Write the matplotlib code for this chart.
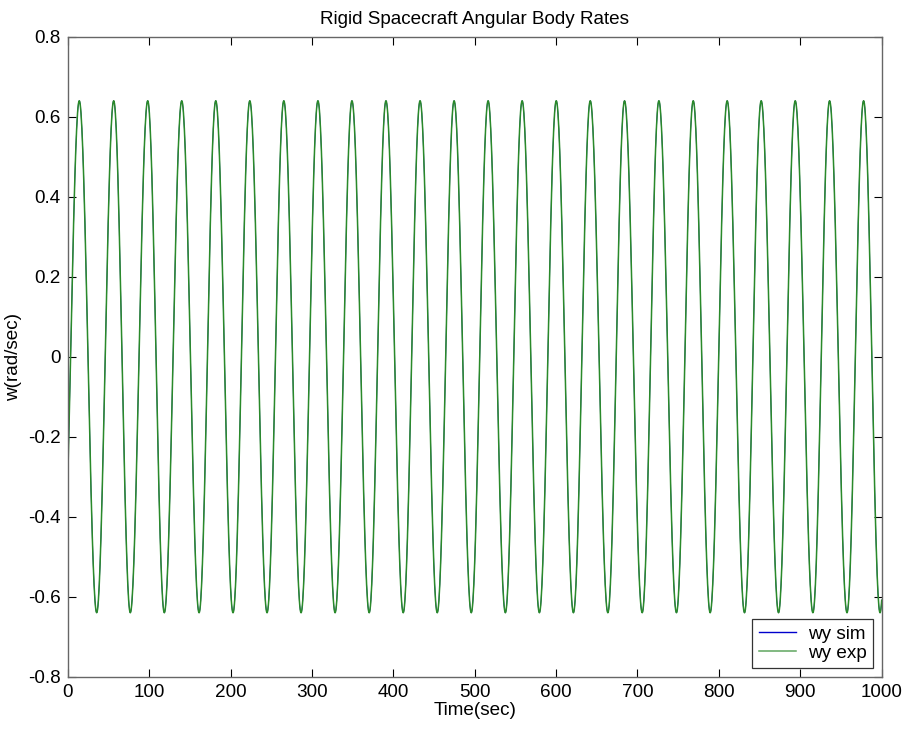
import numpy as np
import matplotlib.pyplot as plt

plt.rcParams['font.family'] = ['Liberation Sans', 'DejaVu Sans']
plt.rcParams['font.size'] = 13.6

# picos e vales de wy (tempo em s, taxa em rad/s)
peak_t = [14.2, 56.5, 98.3, 140.1, 181.9, 223.7, 265.5, 307.4, 349.2, 391.0, 432.9, 474.7,
          516.5, 558.3, 600.2, 642.0, 684.1, 726.3, 768.5, 810.2, 852.0, 893.8, 936.0, 977.8]
peak_w = [0.64, 0.64, 0.64, 0.64, 0.64, 0.64, 0.64, 0.64, 0.64, 0.64, 0.64, 0.64,
          0.64, 0.64, 0.64, 0.64, 0.64, 0.64, 0.64, 0.64, 0.64, 0.64, 0.64, 0.64]
trough_t = [35.6, 76.9, 118.7, 161.4, 203.1, 244.9, 286.7, 328.5, 370.4, 412.2, 454.0, 495.8,
            537.7, 579.5, 621.3, 663.6, 705.8, 747.9, 789.3, 831.5, 873.3, 915.5, 957.4, 998.0]
trough_w = [-0.64, -0.64, -0.64, -0.64, -0.64, -0.64, -0.64, -0.64, -0.64, -0.64, -0.64, -0.64,
            -0.64, -0.64, -0.64, -0.64, -0.64, -0.64, -0.64, -0.64, -0.64, -0.64, -0.64, -0.64]

ext_t = np.ravel(np.column_stack([peak_t, trough_t]))
ext_w = np.ravel(np.column_stack([peak_w, trough_w]))
# meio ciclo antes do primeiro pico e depois do ultimo vale (cortado pelo xlim)
ext_t = np.concatenate([[2*ext_t[0] - ext_t[1]], ext_t, [2*ext_t[-1] - ext_t[-2]]])
ext_w = np.concatenate([[ext_w[1]], ext_w, [ext_w[-2]]])

t = []
w = []
for i in range(len(ext_t) - 1):
    s = np.linspace(0, 1, 40, endpoint=False)
    t.append(ext_t[i] + s*(ext_t[i+1] - ext_t[i]))
    w.append((ext_w[i] + ext_w[i+1])/2 + (ext_w[i] - ext_w[i+1])/2*np.cos(np.pi*s))
t = np.concatenate(t)
w = np.concatenate(w)

fig = plt.figure(figsize=(9.04, 7.29), dpi=100)
ax = fig.add_axes([0.0749, 0.0717, 0.9004, 0.8779])

# sim e exp coincidem: o verde cobre o azul
ax.plot(t, w, color='#0000cc', lw=0.6, label='wy sim')
ax.plot(t, w, color='#2a8a2a', lw=1.1, label='wy exp')

ax.set_xlim(0, 1000)
ax.set_ylim(-0.8, 0.8)
ax.set_xticks(np.arange(0, 1001, 100))
ax.set_yticks(np.arange(-0.8, 0.81, 0.2))
ax.set_yticklabels(['-0.8', '-0.6', '-0.4', '-0.2', '0', '0.2', '0.4', '0.6', '0.8'])
ax.tick_params(direction='in', top=True, right=True, length=5.5, width=0.8, pad=5)
for sp in ax.spines.values():
    sp.set_color('#666666')
    sp.set_linewidth(1.0)

ax.set_title('Rigid Spacecraft Angular Body Rates', fontsize=13.6, pad=9)
ax.set_xlabel('Time(sec)', labelpad=1)
ax.set_ylabel('w(rad/sec)', labelpad=4)

leg = ax.legend(loc='lower right', fancybox=False, framealpha=1, edgecolor='#333333',
                borderaxespad=0.45, handlelength=2.0, labelspacing=0.1, borderpad=0.35,
                handletextpad=0.6)
leg.legend_handles[0].set_linewidth(1.0)
leg.legend_handles[1].set_color('#5fa55f')
leg.get_frame().set_linewidth(0.9)

plt.savefig('out.png', dpi=100)
